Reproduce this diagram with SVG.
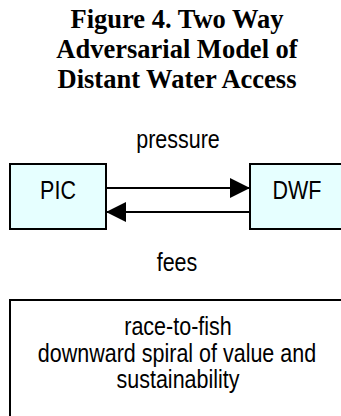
<svg xmlns="http://www.w3.org/2000/svg" width="341" height="416" viewBox="0 0 341 416">
<style>
.title{font-family:"Liberation Serif","Times New Roman",serif;font-weight:bold;font-size:26.5px;fill:#000;text-anchor:middle}
.lbl{font-family:"Liberation Sans",Arial,sans-serif;font-size:25px;fill:#000;text-anchor:middle}
.box{fill:#E6FFFF;stroke:#000;stroke-width:2}
.wbox{fill:#FFFFFF;stroke:#000;stroke-width:2}
.conn{stroke:#000;stroke-width:2;fill:none}
</style>
<defs>
<marker id="ah" markerUnits="userSpaceOnUse" markerWidth="20" markerHeight="20" refX="20" refY="10" orient="auto">
<path d="M0,0 L20,10 L0,20 z" fill="#000"/>
</marker>
</defs>
<rect width="341" height="416" fill="#fff"/>
<g id="title">
<text class="title" x="177" y="28">Figure 4. Two Way</text>
<text class="title" x="177" y="58">Adversarial Model of</text>
<text class="title" x="177" y="88">Distant Water Access</text>
</g>
<g id="pic">
<rect class="box" x="10" y="164" width="96" height="65"/>
<text class="lbl" transform="translate(58,199) scale(0.86,1)">PIC</text>
</g>
<g id="dwf">
<rect class="box" x="250" y="164" width="100" height="65"/>
<text class="lbl" transform="translate(297,199) scale(0.86,1)">DWF</text>
</g>
<g id="connectors">
<line class="conn" x1="106" y1="188" x2="250" y2="188" marker-end="url(#ah)"/>
<line class="conn" x1="250" y1="212" x2="106" y2="212" marker-end="url(#ah)"/>
<text class="lbl" transform="translate(178,148) scale(0.86,1)">pressure</text>
<text class="lbl" transform="translate(177,271) scale(0.86,1)">fees</text>
</g>
<g id="outcome">
<rect class="wbox" x="10" y="300" width="340" height="130"/>
<text class="lbl" transform="translate(178,335) scale(0.86,1)">race-to-fish</text>
<text class="lbl" transform="translate(177,361.5) scale(0.86,1)">downward spiral of value and</text>
<text class="lbl" transform="translate(178,388) scale(0.86,1)">sustainability</text>
</g>
</svg>
